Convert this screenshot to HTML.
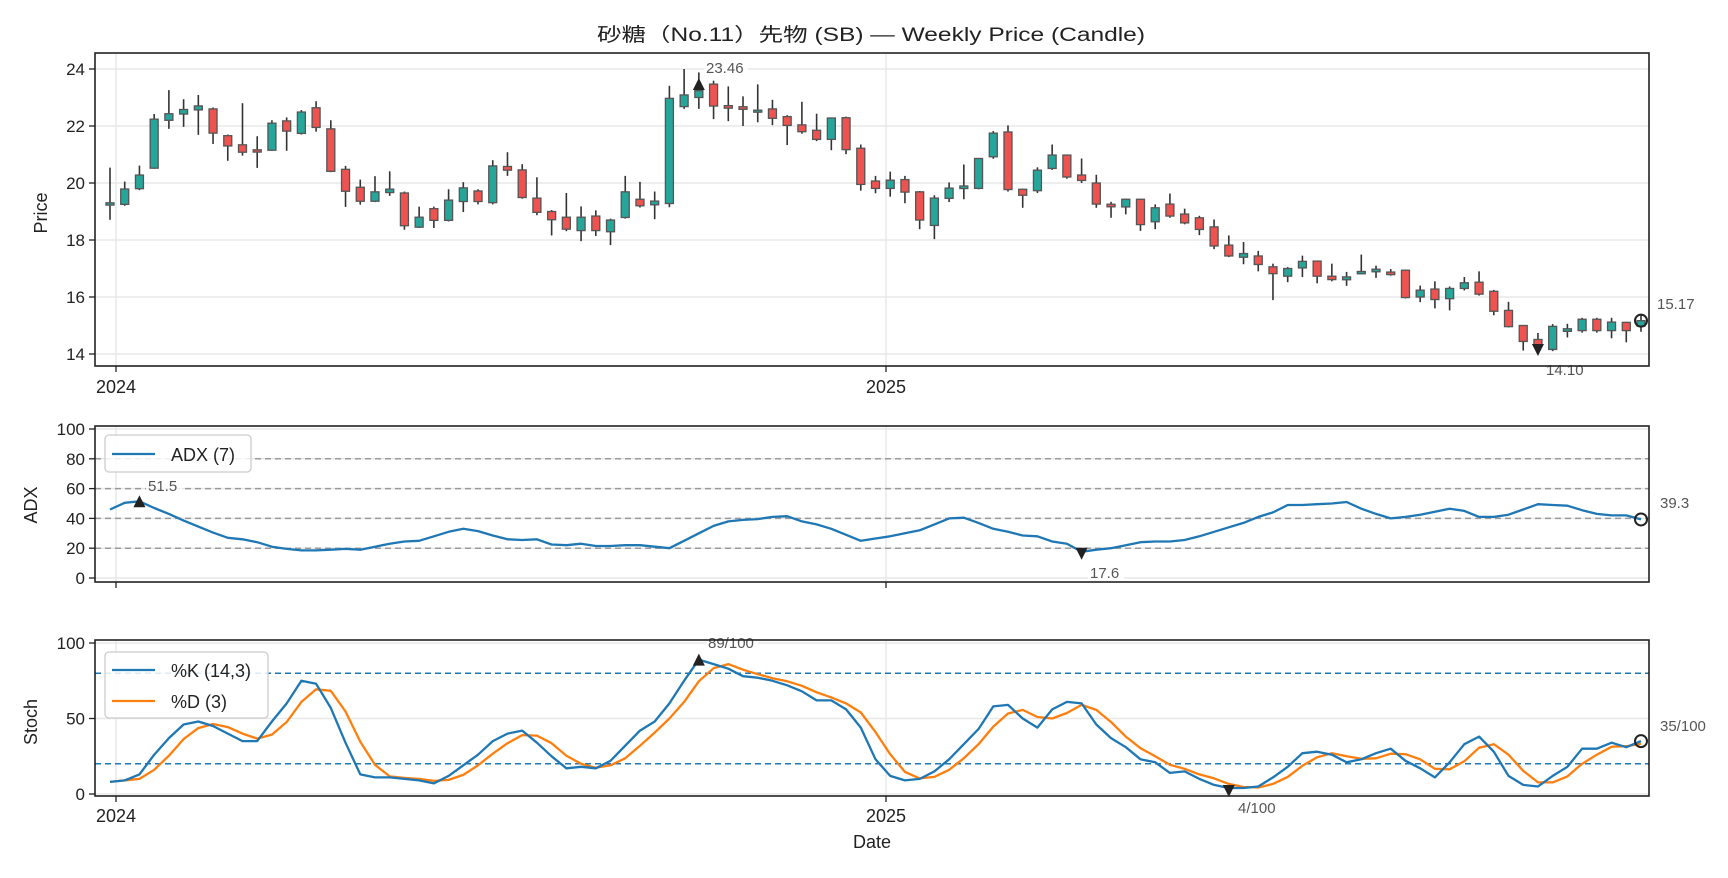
<!DOCTYPE html>
<html><head><meta charset="utf-8">
<style>
html,body{margin:0;padding:0;background:#fff;}
svg{display:block;font-family:"Liberation Sans","Noto Sans CJK JP",sans-serif;}
</style></head>
<body>
<svg id="c" width="1728" height="878" viewBox="0 0 1728 878" xmlns="http://www.w3.org/2000/svg">
<rect width="1728" height="878" fill="#fff"/>
<text x="871" y="41" font-size="19" text-anchor="middle" fill="#222" textLength="548" lengthAdjust="spacingAndGlyphs">砂糖（No.11）先物 (SB) — Weekly Price (Candle)</text>
<g id="g"></g>
</svg>
<script>
var O=[19.26,19.25,19.8,20.52,22.2,22.42,22.6,22.6,21.66,21.34,21.13,21.15,22.18,21.74,22.64,21.9,20.48,19.85,19.36,19.7,19.65,18.45,19.1,18.69,19.35,19.72,19.31,20.58,20.46,19.47,19.0,18.8,18.33,18.84,18.29,18.79,19.43,19.27,19.28,22.68,23.0,23.47,22.68,22.64,22.52,22.6,22.33,22.04,21.85,21.53,22.29,21.22,20.07,19.81,20.12,19.69,18.51,19.46,19.84,19.81,20.92,21.79,19.78,19.73,20.51,20.98,20.28,20.0,19.22,19.16,19.43,18.64,19.26,18.91,18.78,18.46,17.82,17.43,17.44,17.06,16.73,17.02,17.26,16.73,16.64,16.85,16.92,16.84,16.94,16.0,16.28,15.94,16.3,16.52,16.2,15.53,15.0,14.51,14.16,14.83,14.82,15.22,14.82,15.11,14.98];
var C=[19.27,19.79,20.28,22.24,22.43,22.58,22.67,21.75,21.3,21.08,21.12,22.1,21.82,22.49,21.95,20.41,19.71,19.36,19.69,19.75,18.5,18.8,18.69,19.4,19.83,19.35,20.6,20.45,19.49,18.97,18.71,18.38,18.8,18.33,18.7,19.69,19.2,19.33,22.97,23.09,23.24,22.7,22.66,22.62,22.52,22.27,22.02,21.8,21.53,22.28,21.17,19.95,19.81,20.1,19.68,18.7,19.47,19.82,19.86,20.86,21.75,19.77,19.57,20.45,20.98,20.21,20.09,19.26,19.2,19.43,18.54,19.13,18.84,18.6,18.37,17.79,17.44,17.49,17.14,16.82,17.0,17.25,16.73,16.61,16.67,16.86,16.94,16.82,15.98,16.24,15.91,16.3,16.5,16.1,15.5,14.96,14.44,14.27,14.97,14.85,15.22,14.82,15.12,14.82,15.17];
var H=[20.54,20.05,20.61,22.42,23.26,22.94,23.09,22.65,21.7,22.8,21.64,22.2,22.3,22.56,22.87,22.2,20.6,20.12,20.24,20.41,19.7,19.17,19.17,19.78,20.03,19.78,20.8,21.08,20.66,20.2,19.05,19.65,19.18,19.04,18.75,20.25,20.04,19.7,23.41,24.0,23.88,23.59,23.39,23.04,23.46,22.92,22.38,22.85,22.43,22.3,22.33,21.35,20.25,20.4,20.25,19.72,19.57,20.02,20.65,20.88,21.82,22.02,19.8,20.55,21.35,21.0,20.86,20.29,19.34,19.45,19.45,19.25,19.63,19.1,18.85,18.72,18.16,17.93,17.62,17.17,17.05,17.45,17.28,17.17,16.88,17.49,17.1,16.98,16.96,16.4,16.55,16.37,16.7,16.9,16.25,15.83,15.02,14.74,15.05,15.06,15.27,15.27,15.27,15.13,15.37];
var LO=[18.71,19.2,19.75,20.5,21.9,21.97,21.69,21.37,20.78,20.96,20.53,21.13,21.13,21.7,21.8,20.38,19.16,19.24,19.33,19.55,18.36,18.42,18.42,18.65,18.98,19.25,19.25,20.25,19.45,18.87,18.16,18.31,17.96,18.14,17.82,18.75,19.14,18.73,19.15,22.6,22.6,22.24,22.17,22.0,22.13,22.03,21.33,21.73,21.47,21.15,21.01,19.73,19.64,19.52,19.29,18.38,18.03,19.33,19.43,19.78,20.85,19.7,19.13,19.65,20.46,20.15,20.0,19.13,18.78,18.9,18.32,18.38,18.78,18.55,18.17,17.68,17.4,17.15,16.9,15.89,16.52,16.7,16.48,16.55,16.39,16.8,16.67,16.75,15.95,15.82,15.6,15.53,16.23,16.05,15.36,14.93,14.12,14.18,14.1,14.58,14.75,14.75,14.55,14.41,14.78];
var ADX=[46,50.5,51.5,47,43,38.5,34.5,30.5,27,26,24,21,19.5,18.5,18.5,19,19.5,19,21,23,24.5,25,28,31,33,31.5,28.5,26,25.5,26,22.5,22,23,21.5,21.5,22,22,21,20,25,30,35,38,39,39.5,41,41.5,38,36,33,29,25,26.5,28,30,32,36,40,40.5,37,33,31,28.5,28,24.5,23,17.6,19,20,22,24,24.5,24.5,25.5,28,31,34,37,41,44,49,49,49.5,50,51,46.5,43,40,41,42.5,44.5,46.5,45,41,41,42.5,46,49.5,49,48.5,45.5,43,42,42,39.3];
var K=[8,9,13,26,37,46,48,45,40,35,35,48,60,75,73,57,34,13,11,11,10,9,7,12,19,26,35,40,42,34,25,17,18,17,22,32,42,48,60,75,89,86,83,78,77,75,72,68,62,62,56,44,23,12,9,10,15,23,33,43,58,59,50,44,56,61,60,46,37,31,23,21,14,15,10,6,4,4,5,11,18,27,28,26,21,23,27,30,22,17,11,21,33,38,28,12,6,5,12,18,30,30,34,31,35];
var D=K.map(function(v,i){return i<2?v:(K[i]+K[i-1]+K[i-2])/3;});
function X(i){return 110+i*(1641-110)/104;}
function PY(p){return 183-(p-20)*28.5;}
function AY(v){return 578-1.49*v;}
function SY(v){return 794-1.51*v;}
var s='';
function line(x1,y1,x2,y2,c,w,extra){s+='<line x1="'+x1+'" y1="'+y1+'" x2="'+x2+'" y2="'+y2+'" stroke="'+c+'" stroke-width="'+w+'" '+(extra||'')+'/>';}
function txt(x,y,t,sz,anc,fill,extra){s+='<text x="'+x+'" y="'+y+'" font-size="'+sz+'" text-anchor="'+(anc||'start')+'" fill="'+(fill||'#222')+'" '+(extra||'')+'>'+t+'</text>';}
var L0=95,R0=1649;
var panels=[[53,366],[426,582],[640,796]];
[14,16,18,20,22,24].forEach(function(v){line(L0,PY(v),R0,PY(v),'#e8e8e8',1.5);line(L0-6,PY(v),L0,PY(v),'#222',1.3);txt(L0-10,PY(v)+6,v,17,'end');});
[0,20,40,60,80,100].forEach(function(v){line(L0,AY(v),R0,AY(v),'#e8e8e8',1.5);line(L0-6,AY(v),L0,AY(v),'#222',1.3);txt(L0-10,AY(v)+6,v,17,'end');});
[0,50,100].forEach(function(v){line(L0,SY(v),R0,SY(v),'#e8e8e8',1.5);line(L0-6,SY(v),L0,SY(v),'#222',1.3);txt(L0-10,SY(v)+6,v,17,'end');});
panels.forEach(function(p){[116,886].forEach(function(x){line(x,p[0],x,p[1],'#e8e8e8',1.5);line(x,p[1],x,p[1]+6,'#222',1.3);});});
[20,40,60,80].forEach(function(v){line(L0,AY(v),R0,AY(v),'#999',1.5,'stroke-dasharray="6,4"');});
[20,80].forEach(function(v){line(L0,SY(v),R0,SY(v),'#1f77b4',1.5,'stroke-dasharray="6,4"');});
var n=Math.min(O.length,C.length,H.length,LO.length);
for(var i=0;i<n;i++){var x=X(i);var isUp=C[i]>=O[i];
line(x,PY(H[i]),x,PY(LO[i]),'#333',1.6);
var t=PY(Math.max(O[i],C[i])),b=PY(Math.min(O[i],C[i]));if(b-t<2){t-=1;b+=1;}
s+='<rect x="'+(x-4)+'" y="'+t+'" width="8" height="'+(b-t)+'" fill="'+(isUp?'#26a69a':'#ef5350')+'" stroke="#555" stroke-width="1.3"/>';}
function poly(arr,f,c){var p=arr.map(function(v,i){return X(i).toFixed(1)+','+f(v).toFixed(1);}).join(' ');s+='<polyline points="'+p+'" fill="none" stroke="'+c+'" stroke-width="2.3" stroke-linejoin="round"/>';}
poly(ADX,AY,'#1f77b4');poly(D,SY,'#ff7f0e');poly(K,SY,'#1f77b4');
function triUp(x,y){s+='<path d="M'+(x-6)+','+(y+6)+' L'+(x+6)+','+(y+6)+' L'+x+','+(y-6)+'Z" fill="#222"/>';}
function triDn(x,y){s+='<path d="M'+(x-6)+','+(y-6)+' L'+(x+6)+','+(y-6)+' L'+x+','+(y+6)+'Z" fill="#222"/>';}
function circ(x,y){s+='<circle cx="'+x+'" cy="'+y+'" r="6" fill="none" stroke="#222" stroke-width="2"/>';}
function lab(x,y,t){s+='<rect x="'+(x-2)+'" y="'+(y-13)+'" width="'+(t.length*8+4)+'" height="16" fill="#fff" opacity="0.85"/>';txt(x,y,t,15,'start','#555');}
triUp(X(40),84);lab(706,73,'23.46');
triDn(X(97),350);lab(1546,375,'14.10');
circ(X(104),PY(15.17));lab(1657,309,'15.17');
triUp(X(2),AY(51.5));lab(148,491,'51.5');
triDn(X(66),AY(17.6)+2);lab(1090,578,'17.6');
circ(X(104),AY(39.3));lab(1660,508,'39.3');
triUp(X(40),SY(89));lab(708,648,'89/100');
triDn(X(76),SY(4)+3);lab(1238,813,'4/100');
circ(X(104),SY(35));lab(1660,731,'35/100');
panels.forEach(function(p){s+='<rect x="'+L0+'" y="'+p[0]+'" width="'+(R0-L0)+'" height="'+(p[1]-p[0])+'" fill="none" stroke="#222" stroke-width="1.6"/>';});
s+='<rect x="105" y="435" width="146" height="37" rx="4" fill="#fff" fill-opacity="0.85" stroke="#ccc" stroke-width="1.3"/>';
line(112,454,155,454,'#1f77b4',2.3);txt(171,461,'ADX (7)',18);
s+='<rect x="105" y="652" width="163" height="66" rx="4" fill="#fff" fill-opacity="0.85" stroke="#ccc" stroke-width="1.3"/>';
line(112,670,155,670,'#1f77b4',2.3);txt(171,677,'%K (14,3)',18);
line(112,701,155,701,'#ff7f0e',2.3);txt(171,708,'%D (3)',18);
txt(116,393,'2024',18,'middle');txt(886,393,'2025',18,'middle');
txt(116,822,'2024',18,'middle');txt(886,822,'2025',18,'middle');
txt(872,848,'Date',18,'middle');
txt(47,213,'Price',18,'middle','#222','transform="rotate(-90 47 213)"');
txt(37,505,'ADX',18,'middle','#222','transform="rotate(-90 37 505)"');
txt(37,722,'Stoch',18,'middle','#222','transform="rotate(-90 37 722)"');
document.getElementById('g').innerHTML=s;
</script>
</body></html>
